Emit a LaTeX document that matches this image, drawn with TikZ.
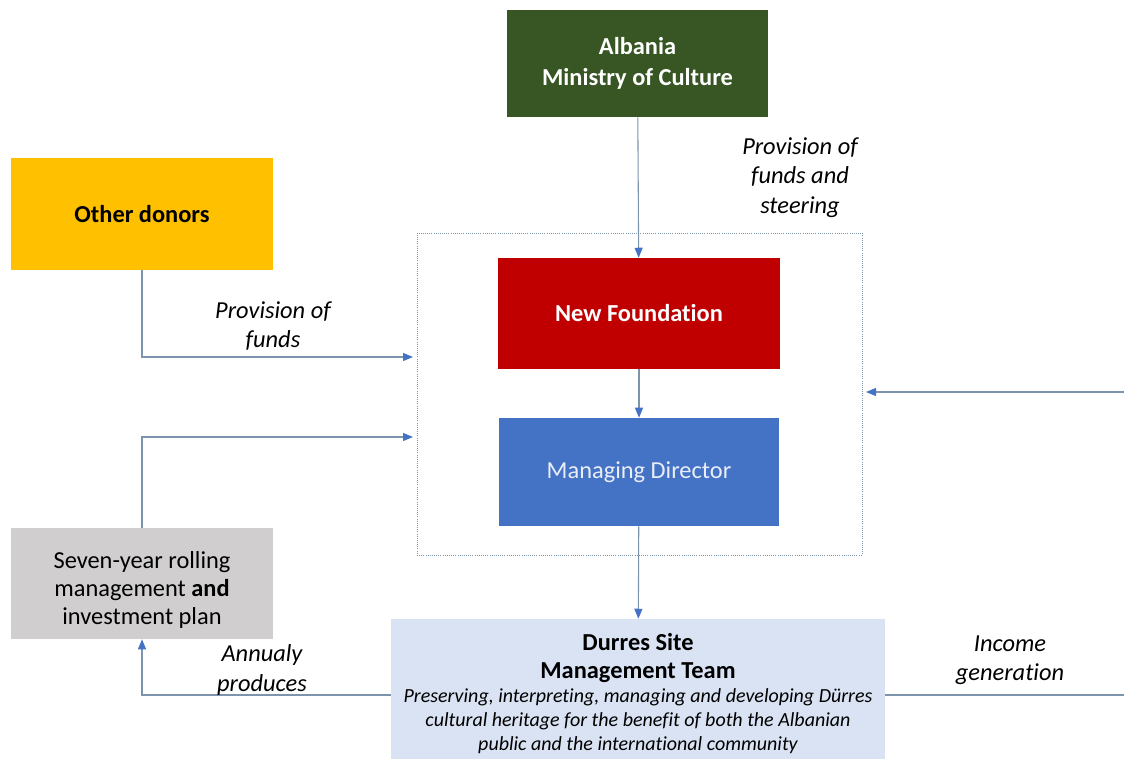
\documentclass[tikz,border=0pt]{standalone}
\usepackage{fontspec}
\setmainfont{Carlito}[Ligatures=NoCommon]
\usepackage{xcolor}
\usetikzlibrary{arrows.meta, positioning}

\definecolor{ministrygreen}{HTML}{375623}
\definecolor{donoryellow}{HTML}{FFC000}
\definecolor{foundred}{HTML}{C00000}
\definecolor{directblue}{HTML}{4472C4}
\definecolor{plangray}{HTML}{D0CECE}
\definecolor{teamblue}{HTML}{DAE3F3}
\definecolor{linkgray}{HTML}{7C94AC}

\newcommand\teamdesc{\fontsize{15}{17.6}\selectfont\itshape}

\begin{document}
\begin{tikzpicture}[x=0.75pt,y=-0.75pt,
		box/.style={inner sep=0pt, align=center, font=\fontsize{18.3}{21}\selectfont},
		link/.style={draw=linkgray, line width=0.8pt, -{Triangle[length=7.5pt,width=6pt,color=directblue]}},
		wire/.style={draw=linkgray, line width=0.8pt},
		lbl/.style={align=center, font=\fontsize{18.3}{22}\selectfont\itshape}]
	\useasboundingbox (0,0) rectangle (1124,758);
	% boxes
	\node[box, fill=ministrygreen, text=white, minimum width=195.75pt, minimum height=80.25pt] (ministry) at (637.5,63.5) {\textbf{Albania}\\[2pt]\textbf{Ministry of Culture}};
	\node[box, fill=donoryellow, minimum width=196.5pt, minimum height=84pt] (donors) at (142,214) {\textbf{Other donors}};
	\node[draw=linkgray, densely dotted, line width=0.6pt, minimum width=333.75pt, minimum height=241.5pt] (frame) at (639.5,394) {};
	\node[box, fill=foundred, text=white, minimum width=211.5pt, minimum height=83.25pt] (found) at (639,313.5) {\textbf{New Foundation}};
	\node[box, fill=directblue, text=white!88!directblue, minimum width=210pt, minimum height=81pt] (director) at (639,472) {Managing Director};
	\node[box, fill=plangray, minimum width=196.5pt, minimum height=83.25pt] (plan) at (142,583.5) {\rule{0pt}{22pt}Seven-year rolling\\management \textbf{and}\\investment plan};
	\node[box, fill=teamblue, minimum width=370.5pt, minimum height=111.75pt] (team) at (638,693.5) {\textbf{Durres Site}\\\textbf{Management Team}\\[-2.5pt]{\teamdesc Preserving, interpreting, managing and developing Dürres}\\[-3pt]{\teamdesc cultural heritage for the benefit of both the Albanian}\\[-3pt]{\teamdesc public and the international community}};
	% free ends and entry points
	\coordinate (donorIn) at (413,357);
	\coordinate (planIn) at (413,437);
	\coordinate (incomeIn) at (866,392);
	\coordinate (edgeA) at (1124,392);
	\coordinate (edgeB) at (1124,695);
	\coordinate (teamL) at (391,695);
	\coordinate (teamR) at (885,695);
	% connectors
	\draw[link] (ministry) -- (found);
	\draw[link] (found) -- (director);
	\draw[link] (director) -- (team);
	\draw[link] (donors) |- (donorIn);
	\draw[link] (plan) |- (planIn);
	\draw[link] (teamL) -| (plan);
	\draw[wire] (teamR) -- (edgeB);
	\draw[link] (edgeA) -- (incomeIn);
	% labels
	\node[lbl] (steer) at (800,177.5) {Provision of\\funds and\\steering};
	\node[lbl] (fund) at (273,326) {Provision of\\funds};
	\node[lbl] (yearly) at (262,670) {Annualy\\produces};
	\node[lbl] (income) at (1010,660) {Income\\generation};
\end{tikzpicture}
\end{document}
